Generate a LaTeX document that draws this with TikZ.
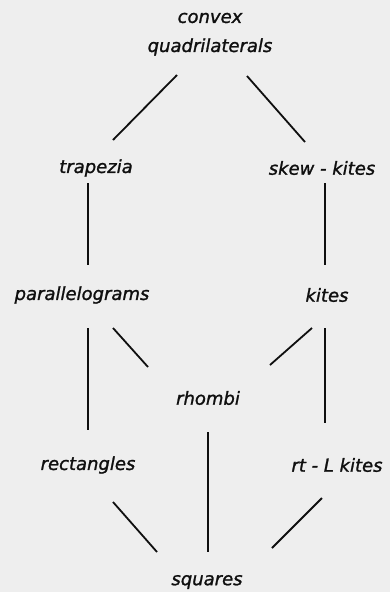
\documentclass[tikz,border=0pt]{standalone}
\usepackage{fontspec}
\setmainfont{DejaVu Sans}
\newfontfamily\lett{DejaVu Sans}[FakeBold=1.3]
\usetikzlibrary{calc}
\definecolor{bgc}{RGB}{238,238,238}
\definecolor{ink}{RGB}{15,15,15}
\begin{document}
\begin{tikzpicture}[x=1pt,y=-1pt,
  lbl/.style={inner sep=0pt,text=ink,font=\lett\fontsize{18}{20}\selectfont\itshape},
  conn/.style={draw=ink,line width=1.8pt}]
\fill[bgc] (0,0) rectangle (390,592);
\useasboundingbox (0,0) rectangle (390,592);
\node[lbl] (cv) at (210,18) {convex};
\node[lbl] (q) at (210,47) {quadrilaterals};
\node[lbl] (tr) at (96,168) {trapezia};
\node[lbl] (sk) at (322,168) {skew - kites};
\node[lbl] (pa) at (82,295) {parallelograms};
\node[lbl] (ki) at (327,295) {kites};
\node[lbl] (rh) at (208,398) {rhombi};
\node[lbl] (re) at (88,465) {rectangles};
\node[lbl] (rt) at (337,465) {rt - L kites};
\node[lbl] (sq) at (207,582) {squares};
\draw[conn] ($(q)+(-33,28)$) -- ($(tr)+(17,-28)$);
\draw[conn] ($(q)+(37,29)$) -- ($(sk)+(-17,-26)$);
\draw[conn] ($(tr)+(-8,15)$) -- ($(pa)+(6,-30)$);
\draw[conn] ($(sk)+(3,15)$) -- ($(ki)+(-2,-30)$);
\draw[conn] ($(pa)+(6,33)$) -- ($(re)+(0,-35)$);
\draw[conn] ($(ki)+(-2,33)$) -- ($(rt)+(-12,-42)$);
\draw[conn] ($(pa)+(31,33)$) -- ($(rh)+(-60,-31)$);
\draw[conn] ($(ki)+(-15,33)$) -- ($(rh)+(62,-33)$);
\draw[conn] ($(rh)+(0,34)$) -- ($(sq)+(1,-30)$);
\draw[conn] ($(re)+(25,37)$) -- ($(sq)+(-50,-30)$);
\draw[conn] ($(rt)+(-15,33)$) -- ($(sq)+(65,-34)$);
\end{tikzpicture}
\end{document}
